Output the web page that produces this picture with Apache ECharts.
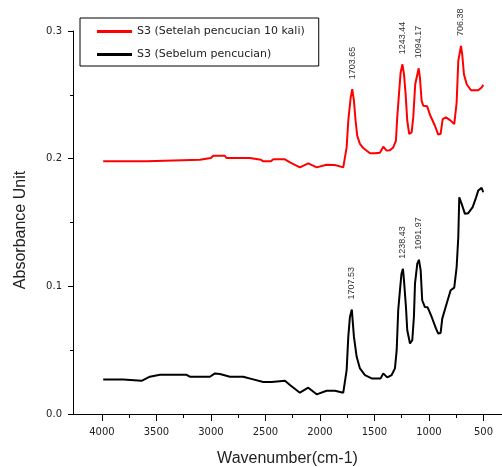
<!DOCTYPE html>
<html>
<head>
<meta charset="utf-8">
<script src="https://cdn.jsdelivr.net/npm/echarts@6/dist/echarts.min.js"></script>
<style>html,body{margin:0;padding:0;background:#fff}#c{width:502px;height:467px}</style>
</head>
<body>
<div id="c"></div>
<script>
const seriesNames = ['S3 (Setelah pencucian 10 kali)', 'S3 (Sebelum pencucian)'];
const xTickValues = [4000, 3500, 3000, 2500, 2000, 1500, 1000, 500];
const xMinorTickValues = [3750, 3250, 2750, 2250, 1750, 1250, 750];

const waveRed = [3988, 3590, 3575, 3101, 3085, 3000, 2979, 2872, 2856, 2642, 2627, 2541, 2520, 2450, 2428, 2321, 2275, 2184, 2107, 2030, 1939, 1862, 1786, 1771, 1755, 1740, 1718, 1703.65, 1688, 1673, 1658, 1633, 1603, 1541, 1496, 1450, 1419, 1388, 1358, 1328, 1303, 1291, 1275, 1260, 1243.44, 1229, 1214, 1199, 1181, 1159, 1144, 1126, 1094.17, 1083, 1067, 1052, 1016, 991, 945, 915, 893, 874, 844, 807, 768, 746, 731, 706.38, 695, 679, 654, 615, 548, 517, 502];
const absRed = [0.1979, 0.1979, 0.1992, 0.1992, 0.2005, 0.2005, 0.2023, 0.2023, 0.2005, 0.2005, 0.1992, 0.1992, 0.1979, 0.1979, 0.1995, 0.1995, 0.1971, 0.1932, 0.1963, 0.1932, 0.1953, 0.1950, 0.1932, 0.1940, 0.2088, 0.2297, 0.2479, 0.2544, 0.2453, 0.2297, 0.2180, 0.2115, 0.2083, 0.2042, 0.2042, 0.2047, 0.2094, 0.2063, 0.2065, 0.2088, 0.2140, 0.2323, 0.2505, 0.2674, 0.2739, 0.2661, 0.2505, 0.2297, 0.2193, 0.2206, 0.2323, 0.2583, 0.2708, 0.2635, 0.2453, 0.2414, 0.2410, 0.2344, 0.2258, 0.2188, 0.2195, 0.2310, 0.2323, 0.2302, 0.2271, 0.2440, 0.2766, 0.2883, 0.2818, 0.2661, 0.2583, 0.2536, 0.2536, 0.2557, 0.2578];
const peaksRed = ['1703.65', '1243.44', '1094.17', '706.38'];

const waveBlack = [3988, 3805, 3789, 3636, 3560, 3468, 3223, 3193, 3009, 2963, 2917, 2826, 2704, 2612, 2520, 2443, 2428, 2321, 2275, 2184, 2107, 2030, 1939, 1862, 1786, 1771, 1755, 1740, 1725, 1707.53, 1700, 1688, 1663, 1633, 1587, 1526, 1443, 1419, 1383, 1342, 1312, 1296, 1282, 1266, 1252, 1238.43, 1229, 1211, 1199, 1174, 1153, 1138, 1128, 1107, 1091.97, 1076, 1062, 1037, 1012, 975, 936, 915, 893, 878, 838, 801, 768, 746, 731, 722, 700, 670, 640, 599, 569, 548, 517, 502];
const absBlack = [0.0271, 0.0271, 0.0260, 0.0260, 0.0292, 0.0307, 0.0307, 0.0292, 0.0292, 0.0318, 0.0313, 0.0292, 0.0292, 0.0271, 0.0250, 0.0250, 0.0260, 0.0260, 0.0227, 0.0167, 0.0206, 0.0154, 0.0182, 0.0182, 0.0167, 0.0174, 0.0344, 0.0604, 0.0760, 0.0818, 0.0734, 0.0604, 0.0448, 0.0357, 0.0305, 0.0279, 0.0279, 0.0318, 0.0287, 0.0305, 0.0357, 0.0500, 0.0813, 0.0969, 0.1099, 0.1138, 0.1047, 0.0838, 0.0656, 0.0552, 0.0578, 0.0760, 0.1021, 0.1177, 0.1208, 0.1125, 0.0891, 0.0838, 0.0836, 0.0760, 0.0670, 0.0630, 0.0635, 0.0747, 0.0864, 0.0969, 0.0990, 0.1151, 0.1385, 0.1698, 0.1646, 0.1568, 0.1573, 0.1620, 0.1693, 0.1750, 0.1771, 0.1737];
const peaksBlack = ['1707.53', '1238.43', '1091.97'];

function buildData(waves, vals, peaks) {
  return waves.map(function (w, i) {
    const item = { value: [w, vals[i]] };
    const p = peaks.find(function (s) { return parseFloat(s) === w; });
    if (p) {
      item.label = {
        show: true, formatter: p, rotate: 90, position: 'top', distance: 10,
        align: 'left', verticalAlign: 'middle',
        fontFamily: 'Liberation Sans', fontSize: 9, color: '#333'
      };
    }
    return item;
  });
}

const chart = echarts.init(document.getElementById('c'), null, { renderer: 'canvas' });
const tickFont = { fontFamily: 'DejaVu Sans', fontSize: 10, color: '#222' };
chart.setOption({
  animation: false,
  backgroundColor: '#fff',
  grid: { left: 73, right: 0, top: 31, bottom: 53, containLabel: false, outerBoundsMode: 'none' },
  legend: {
    left: 80, top: 18, orient: 'vertical',
    data: seriesNames,
    icon: 'rect', itemWidth: 35, itemHeight: 3, itemGap: 12,
    padding: [8, 14, 6, 17],
    borderColor: '#000', borderWidth: 1, backgroundColor: '#fff',
    textStyle: { fontFamily: 'DejaVu Sans', fontSize: 11, color: '#222' }
  },
  xAxis: [{
    type: 'value', inverse: true, min: 330, max: 4265,
    name: 'Wavenumber(cm-1)', nameLocation: 'middle', nameGap: 37,
    nameTextStyle: { fontFamily: 'Liberation Sans', fontSize: 16, color: '#222' },
    axisLine: { show: true, onZero: false, lineStyle: { color: '#000', width: 1 } },
    axisTick: { show: true, inside: false, length: 7, customValues: xTickValues, lineStyle: { color: '#000' } },
    axisLabel: { show: true, margin: 13, customValues: xTickValues, formatter: function (v) { return String(v); }, ...tickFont },
    splitLine: { show: false }
  }, {
    type: 'value', inverse: true, min: 330, max: 4265, position: 'bottom',
    axisLine: { show: false },
    axisTick: { show: true, length: 4, customValues: xMinorTickValues, lineStyle: { color: '#000' } },
    axisLabel: { show: false, customValues: xMinorTickValues },
    splitLine: { show: false }
  }],
  yAxis: {
    type: 'value', min: 0, max: 0.3, interval: 0.1,
    name: 'Absorbance Unit', nameLocation: 'middle', nameGap: 44,
    nameTextStyle: { fontFamily: 'Liberation Sans', fontSize: 16, color: '#222', padding: [0, 15, 0, 0] },
    axisLine: { show: true, onZero: false, lineStyle: { color: '#000', width: 1 } },
    axisTick: { show: true, length: 5, lineStyle: { color: '#000' } },
    minorTick: { show: true, splitNumber: 2, length: 3, lineStyle: { color: '#000' } },
    axisLabel: { margin: 11, formatter: function (v) { return v.toFixed(1); }, ...tickFont },
    splitLine: { show: false }
  },
  series: [{
    name: seriesNames[0], type: 'line', xAxisIndex: 0,
    data: buildData(waveRed, absRed, peaksRed),
    symbol: 'circle', symbolSize: 0.01, showSymbol: true,
    lineStyle: { color: '#ff0000', width: 2 }, itemStyle: { color: '#ff0000' },
    emphasis: { disabled: true }
  }, {
    name: seriesNames[1], type: 'line', xAxisIndex: 0,
    data: buildData(waveBlack, absBlack, peaksBlack),
    symbol: 'circle', symbolSize: 0.01, showSymbol: true,
    lineStyle: { color: '#000000', width: 2 }, itemStyle: { color: '#000000' },
    emphasis: { disabled: true }
  }]
});
</script>
</body>
</html>
